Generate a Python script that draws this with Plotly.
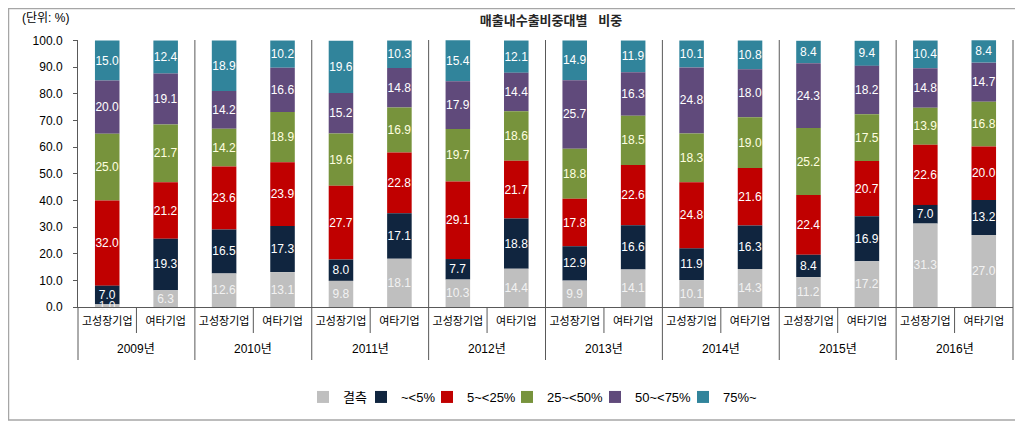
import plotly.graph_objects as go

years = ['2009년', '2010년', '2011년', '2012년', '2013년', '2014년', '2015년', '2016년']
cats = ['고성장기업', '여타기업']

series_names = ['결측', '~<5%', '5~<25%', '25~<50%', '50~<75%', '75%~']
missing = [1.0, 6.3, 12.6, 13.1, 9.8, 18.1, 10.3, 14.4, 9.9, 14.1, 10.1, 14.3, 11.2, 17.2, 31.3, 27.0]
lt5 = [7.0, 19.3, 16.5, 17.3, 8.0, 17.1, 7.7, 18.8, 12.9, 16.6, 11.9, 16.3, 8.4, 16.9, 7.0, 13.2]
p5_25 = [32.0, 21.2, 23.6, 23.9, 27.7, 22.8, 29.1, 21.7, 17.8, 22.6, 24.8, 21.6, 22.4, 20.7, 22.6, 20.0]
p25_50 = [25.0, 21.7, 14.2, 18.9, 19.6, 16.9, 19.7, 18.6, 18.8, 18.5, 18.3, 19.0, 25.2, 17.5, 13.9, 16.8]
p50_75 = [20.0, 19.1, 14.2, 16.6, 15.2, 14.8, 17.9, 14.4, 25.7, 16.3, 24.8, 18.0, 24.3, 18.2, 14.8, 14.7]
p75 = [15.0, 12.4, 18.9, 10.2, 19.6, 10.3, 15.4, 12.1, 14.9, 11.9, 10.1, 10.8, 8.4, 9.4, 10.4, 8.4]

series_values = [missing, lt5, p5_25, p25_50, p50_75, p75]
colors = ['#BFBFBF', '#10253F', '#C00000', '#77933C', '#604A7B', '#31849B']
text_colors = ['#F2F2F2', 'white', 'white', '#FFFFE0', 'white', 'white']

n_groups = len(years)
n_cats = len(cats)
n_bars = n_groups * n_cats
positions = list(range(n_bars))
tick_text = [c for _ in years for c in cats]

# stacked bases computed from the series (so lower segments can be drawn last, on top)
bases = []
running = [0.0] * n_bars
for vals in series_values:
    bases.append(list(running))
    running = [r + v for r, v in zip(running, vals)]

FONT = "Arial, 'Liberation Sans', 'Noto Sans CJK KR', sans-serif"

# page body has an 8px margin; plot area placed to match reference pixel positions
OFF = 8
W, H = 1023 - OFF, 422 - OFF
PL, PR, PT, PB = 78, 1013, 40, 307          # plot area in page pixels
PW, PH = PR - PL, PB - PT

def px(xabs):
    return (xabs - PL) / PW

def py(yabs):
    return (PB - yabs) / PH

fig = go.Figure()
legend_left_x = [303, 361, 427, 507, 595, 683]
for i in reversed(range(len(series_names))):
    lg = 'legend' if i == 0 else f'legend{i + 1}'
    fig.add_trace(go.Bar(
        x=positions, y=series_values[i], base=bases[i], name=series_names[i], legend=lg,
        marker=dict(color=colors[i], line=dict(width=0)),
        texttemplate='%{y:.1f}', textposition='inside', insidetextanchor='middle',
        textangle=0, textfont=dict(color=text_colors[i], size=12, family=FONT),
        constraintext='none', cliponaxis=False, hoverinfo='skip',
    ))

line_col = '#595959'
shapes = []
y_div = py(360)
y_inner = py(333)
for k in range(0, n_groups + 1):
    xp = k / n_groups
    shapes.append(dict(type='line', xref='paper', yref='paper', x0=xp, x1=xp,
                       y0=(1 if 0 < k else 0), y1=y_div, line=dict(color=line_col, width=1)))
for k in range(n_groups):
    xp = (2 * k + 1) / n_bars
    shapes.append(dict(type='line', xref='paper', yref='paper', x0=xp, x1=xp, y0=0, y1=y_inner,
                       line=dict(color=line_col, width=1)))
shapes.append(dict(type='rect', xref='paper', yref='paper', x0=px(OFF + 0.5), x1=px(1021),
                   y0=py(420), y1=py(OFF + 0.5),
                   line=dict(color='#A6A6A6', width=1.5), fillcolor='rgba(0,0,0,0)', layer='below'))

annotations = [dict(text='(단위: %)', xref='paper', yref='paper', x=px(71), y=py(18),
                    xanchor='right', yanchor='middle', showarrow=False, font=dict(size=12))]
for k, yr in enumerate(years):
    annotations.append(dict(text=yr, xref='x', yref='paper', x=k * n_cats + (n_cats - 1) / 2,
                            y=py(349), xanchor='center', yanchor='middle', showarrow=False,
                            font=dict(size=12)))

legends = {}
for i, lx in enumerate(legend_left_x):
    key = 'legend' if i == 0 else f'legend{i + 1}'
    legends[key] = dict(orientation='h', x=px(lx), xanchor='left', y=py(397), yanchor='middle',
                        font=dict(size=13), itemwidth=30, bgcolor='rgba(0,0,0,0)')

fig.update_layout(
    barmode='overlay',
    bargap=0.58,
    width=W, height=H,
    margin=dict(l=PL - OFF, r=W - (PR - OFF), t=PT - OFF, b=H - (PB - OFF)),
    paper_bgcolor='white', plot_bgcolor='white',
    font=dict(family=FONT, size=12, color='black'),
    title=dict(text='<b>매출내수출비중대별   비중</b>', x=px(551), xref='paper', xanchor='center',
               y=1 - (20 - OFF) / H, yref='container', yanchor='middle',
               font=dict(size=13, color='#262626')),
    showlegend=True,
    uniformtext=dict(minsize=12, mode='show'),
    shapes=shapes,
    annotations=annotations,
    hovermode=False,
    **legends,
)
fig.update_xaxes(range=[-0.5, n_bars - 0.5], tickvals=positions, ticktext=tick_text,
                 showline=True, linecolor=line_col, linewidth=1, ticks='', ticklabelstandoff=4,
                 tickfont=dict(size=11), showgrid=False, zeroline=False)
fig.update_yaxes(range=[0, 100.2], tickvals=[v * 10 for v in range(11)], tickformat='.1f',
                 ticks='outside', ticklen=4,
                 tickcolor=line_col, showline=True, linecolor=line_col, linewidth=1,
                 showgrid=False, zeroline=False, tickfont=dict(size=12), ticklabelstandoff=8)

fig.write_html('out.html')
